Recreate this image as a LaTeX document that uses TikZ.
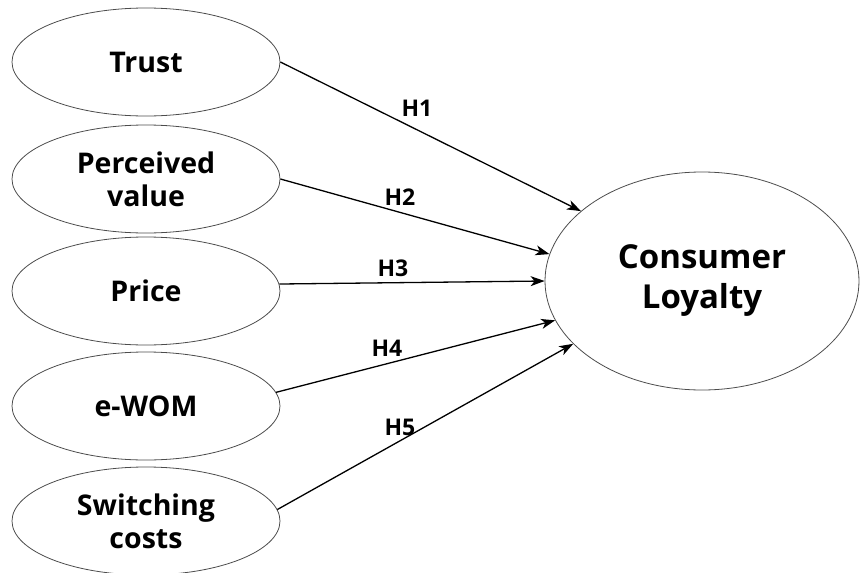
\documentclass[tikz,border=0pt]{standalone}
\usepackage{fontspec}
\setmainfont{Open Sans}
\usetikzlibrary{arrows.meta,shapes.geometric}
\tikzset{
  factor/.style={draw=black!70, line width=0.8pt, ellipse, minimum width=268pt, minimum height=108pt, inner sep=0pt, align=center, font=\fontsize{28.5}{33}\selectfont\bfseries},
  outcome/.style={draw=black!70, line width=0.8pt, ellipse, minimum width=314pt, minimum height=218pt, inner sep=0pt, align=center, font=\fontsize{33}{40}\selectfont\bfseries},
  hyp/.style={-{Stealth[length=14pt,width=10pt,inset=4pt]}, line width=1.3pt, black},
  hlabel/.style={font=\fontsize{23}{26}\selectfont\bfseries, inner sep=0pt}
}
\begin{document}
\begin{tikzpicture}[x=1pt,y=-1pt]
\useasboundingbox (0,0) rectangle (860,573);
\node[factor] (trust) at (146,62) {Trust};
\node[factor] (pv) at (146,179) {Perceived\\value};
\node[factor] (price) at (146,291) {Price};
\node[factor] (ewom) at (146,406) {e-WOM};
\node[factor] (sc) at (146,521) {Switching\\costs};
\node[outcome] (cl) at (702,281) {Consumer\\Loyalty};
\draw[hyp] (trust.east) -- (cl.150);
\draw[hyp] (pv.east) -- (cl.170);
\draw[hyp] (price.3) -- (cl.180);
\draw[hyp] (ewom.6) -- (cl.195);
\draw[hyp] (sc.5) -- (cl.206);
\node[hlabel] (h1) at (417,108) {H1};
\node[hlabel] (h2) at (400,197) {H2};
\node[hlabel] (h3) at (393,268) {H3};
\node[hlabel] (h4) at (387,348) {H4};
\node[hlabel] (h5) at (400,427) {H5};
\end{tikzpicture}
\end{document}
